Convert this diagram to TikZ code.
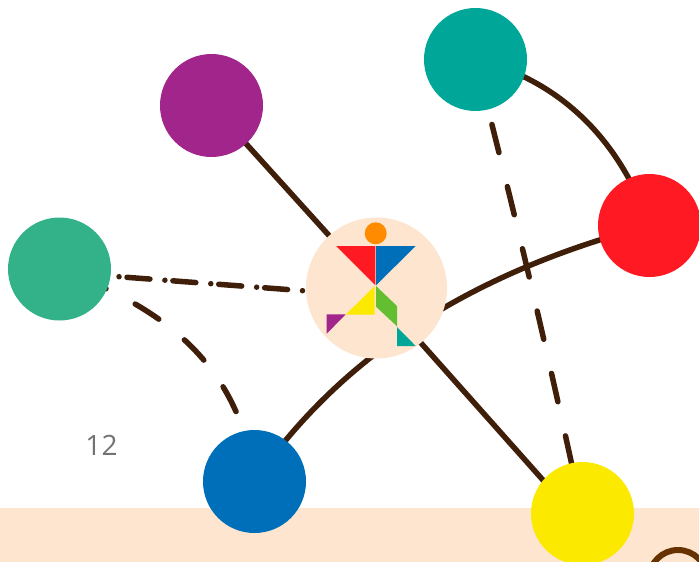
\documentclass[tikz,border=0pt]{standalone}
\usepackage{fontspec}
\setmainfont{Open Sans}
\usetikzlibrary{backgrounds}
\definecolor{edgebrown}{HTML}{3F1F0A}
\definecolor{ringbrown}{HTML}{663300}
\definecolor{peach}{HTML}{FDE5D0}
\definecolor{cPurple}{HTML}{A1258A}
\definecolor{cTeal}{HTML}{00A799}
\definecolor{cRed}{HTML}{FF1923}
\definecolor{cGreen}{HTML}{33B28A}
\definecolor{cBlue}{HTML}{006FB9}
\definecolor{cYellow}{HTML}{FBEA00}
\definecolor{cLime}{HTML}{64BE32}
\definecolor{cOrange}{HTML}{FF8C00}
\tikzset{
  ball/.style={circle,minimum size=103pt,inner sep=0pt,outer sep=0pt,draw=none},
  link/.style={draw=edgebrown,line width=5.5pt},
  longdash/.style={link,line cap=round},
}
\begin{document}
\begin{tikzpicture}[x=1pt,y=-1pt]
\useasboundingbox (0,0) rectangle (699,562);
\clip (0,0) rectangle (699,562);
\node[ball,fill=cPurple] (purple) at (211.5,105.5) {};
\node[ball,fill=cTeal] (teal) at (475.5,59.5) {};
\node[ball,fill=cRed] (red) at (649.5,225.5) {};
\node[ball,fill=cGreen] (green) at (59.5,269) {};
\node[ball,fill=cBlue] (blue) at (254.5,481.5) {};
\node[ball,fill=cYellow] (yellow) at (582.5,513.5) {};
\node[circle,minimum size=141pt,inner sep=0pt,fill=peach] (hub) at (376.5,288) {};
\node[text=black!55,font=\fontsize{28}{28}\selectfont,inner sep=0pt] (num) at (101.5,445) {12};
\node[circle,draw=ringbrown,line width=6pt,minimum size=58pt,inner sep=0pt] (ring) at (678,579) {};
% tangram figure
\fill[cOrange] (375.7,233.3) circle (11);
\fill[cRed] (336,246) -- (375.3,246) -- (375.3,285.3) -- cycle;
\fill[cBlue] (376,246) -- (415.7,246) -- (376,285.3) -- cycle;
\fill[cYellow] (374.7,286) -- (374.7,314.7) -- (345.7,314.7) -- cycle;
\fill[cPurple] (326.7,314.3) -- (345.7,314.3) -- (326.7,333.7) -- cycle;
\fill[cLime] (376,286) -- (397,306) -- (397,326.3) -- (376,306.7) -- cycle;
\fill[cTeal] (397,327) -- (415.7,346) -- (397,346) -- cycle;
\begin{scope}[on background layer]
\fill[peach] (0,508) rectangle (699,562);
\draw[link] (purple.center) -- (hub.center);
\draw[link] ([yshift=-5pt]hub.center) -- ([yshift=-11pt]yellow.center);
\draw[link] (blue.center) .. controls (345,350) and (480,270) .. (red.center);
\draw[link] (teal.center) .. controls (560,80) and (620,140) .. (red.center);
\draw[longdash,dash pattern=on 29pt off 35pt,dash phase=61pt] (teal.center) to[bend left=1] (yellow.center);
\draw[longdash,dash pattern=on 0.01pt off 8pt on 23pt off 14.99pt,dash phase=32.3pt] ([yshift=-3.2pt]green.center) -- ([yshift=-8.3pt]hub.center);
\draw[longdash,dash pattern=on 28pt off 33pt,dash phase=38.5pt] (green.center) .. controls (125,295) and (238,340) .. (blue.center);
\end{scope}
\end{tikzpicture}
\end{document}
